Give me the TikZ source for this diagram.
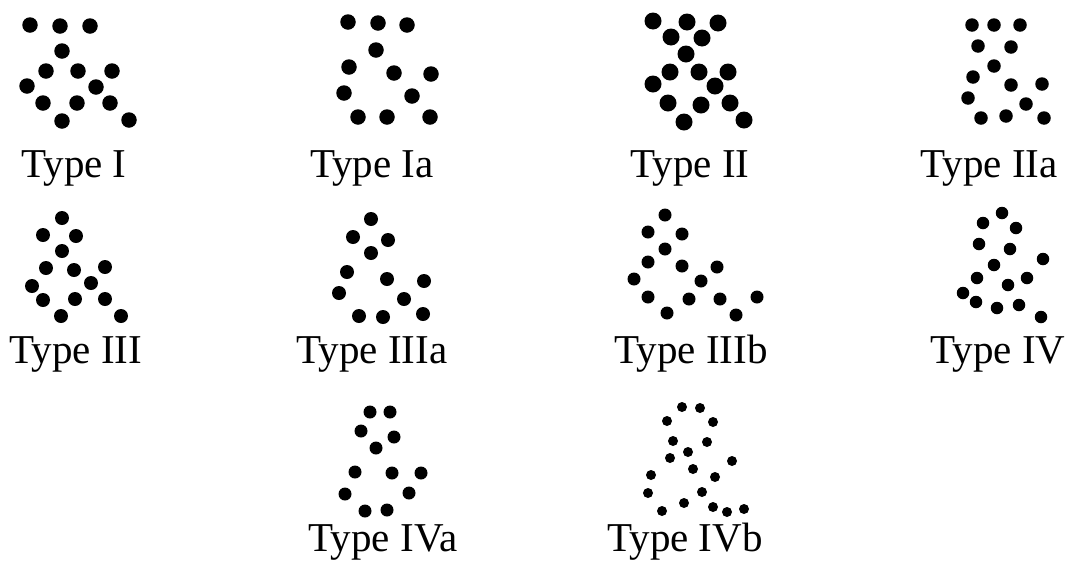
\documentclass[tikz,border=0pt]{standalone}
\usepackage{fontspec}
\setmainfont{Liberation Serif}
\begin{document}
\begin{tikzpicture}[x=1pt,y=-1pt,
  dot/.style={circle,fill=black,inner sep=0pt,minimum size=14pt},
  lbl/.style={anchor=base,inner sep=0pt,font=\fontsize{41}{41}\selectfont}]
\useasboundingbox[fill=white] (0,0) rectangle (1080,571);
% Type I
\foreach \p [count=\k] in {(30,25),(60,26),(90,26),(62,51),(46,71),(78,71),(112,71),(27,86),(96,87),(43,103),(77,103),(110,103),(62,121),(129,120)}
  \node[dot,minimum size=15.5pt] (tI-\k) at \p {};
\node[lbl] (lI) at (74,177) {Type I};
% Type Ia
\foreach \p [count=\k] in {(348,22),(378,23),(407,25),(376,50),(349,67),(394,73),(431,74),(344,93),(412,96),(358,117),(387,117),(430,117)}
  \node[dot,minimum size=15.5pt] (tIa-\k) at \p {};
\node[lbl] (lIa) at (372,177) {Type Ia};
% Type II
\foreach \p [count=\k] in {(653,21),(687,22),(718,23),(671,37),(702,38),(686,54),(670,72),(699,72),(728,72),(653,84),(715,86),(668,103),(701,105),(730,103),(684,122),(744,120)}
  \node[dot,minimum size=17pt] (tII-\k) at \p {};
\node[lbl] (lII) at (690,177) {Type II};
% Type IIa
\foreach \p [count=\k] in {(972,25),(994,25),(1020,25),(978,46),(1011,47),(994,66),(973,77),(1011,85),(1042,84),(968,98),(1026,104),(981,118),(1006,116),(1044,118)}
  \node[dot,minimum size=13.5pt] (tIIa-\k) at \p {};
\node[lbl] (lIIa) at (989,177) {Type IIa};
% Type III
\foreach \p [count=\k] in {(62,218),(43,235),(76,236),(62,251),(46,268),(74,270),(105,267),(32,286),(91,283),(43,300),(75,299),(105,299),(61,316),(121,316)}
  \node[dot,minimum size=14pt] (tIII-\k) at \p {};
\node[lbl] (lIII) at (76,363) {Type III};
% Type IIIa
\foreach \p [count=\k] in {(371,219),(353,237),(388,240),(371,253),(347,272),(387,279),(424,281),(339,293),(404,299),(359,316),(383,317),(423,314)}
  \node[dot,minimum size=14pt] (tIIIa-\k) at \p {};
\node[lbl] (lIIIa) at (372,363) {Type IIIa};
% Type IIIb
\foreach \p [count=\k] in {(665,215),(648,232),(682,234),(665,249),(648,262),(682,266),(717,267),(634,279),(701,281),(648,297),(689,299),(720,299),(757,297),(667,313),(736,315)}
  \node[dot,minimum size=13pt] (tIIIb-\k) at \p {};
\node[lbl] (lIIIb) at (691,363) {Type IIIb};
% Type IV
\foreach \p [count=\k] in {(1002,213),(983,223),(1016,228),(979,244),(1010,249),(1043,259),(994,265),(977,278),(1027,278),(1008,285),(963,293),(976,302),(997,308),(1019,305),(1041,317)}
  \node[dot,minimum size=12.5pt] (tIV-\k) at \p {};
\node[lbl] (lIV) at (998,363) {Type IV};
% Type IVa
\foreach \p [count=\k] in {(370,412),(390,412),(361,431),(394,437),(376,448),(355,472),(392,473),(421,473),(345,494),(409,493),(365,511),(387,510)}
  \node[dot,minimum size=13pt] (tIVa-\k) at \p {};
\node[lbl] (lIVa) at (383,551) {Type IVa};
% Type IVb
\foreach \p [count=\k] in {(682,407),(700,408),(667,421),(713,422),(673,441),(707,442),(688,452),(670,458),(732,461),(693,469),(651,475),(715,477),(648,493),(702,492),(684,503),(662,511),(713,507),(727,512),(744,509)}
  \node[dot,minimum size=10pt] (tIVb-\k) at \p {};
\node[lbl] (lIVb) at (685,551) {Type IVb};
\end{tikzpicture}
\end{document}
